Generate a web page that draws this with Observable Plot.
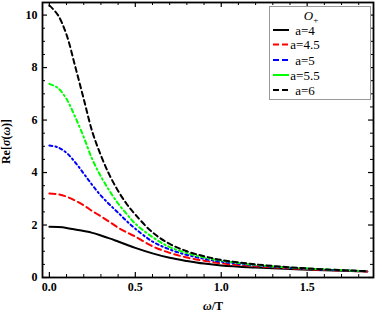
<!DOCTYPE html>
<html><head><meta charset="utf-8">
<script src="https://cdn.jsdelivr.net/npm/d3@7"></script>
<script src="https://cdn.jsdelivr.net/npm/@observablehq/plot@0.6"></script>
<style>body{margin:0;background:#fff}</style>
</head><body><div id="chart"></div>
<script>
const omega = [0, 0.05, 0.1, 0.15, 0.2, 0.25, 0.3, 0.35, 0.4, 0.45, 0.5, 0.6, 0.7, 0.8, 0.9, 1.0, 1.2, 1.4, 1.6, 1.85];
const a4  = [1.93, 1.92, 1.89, 1.83, 1.77, 1.70, 1.60, 1.49, 1.37, 1.25, 1.13, 0.92, 0.75, 0.63, 0.53, 0.46, 0.38, 0.32, 0.28, 0.23];
const a45 = [3.20, 3.17, 3.08, 2.93, 2.75, 2.53, 2.33, 2.12, 1.90, 1.72, 1.56, 1.19, 0.94, 0.76, 0.64, 0.54, 0.43, 0.35, 0.29, 0.23];
const a5  = [5.03, 4.96, 4.75, 4.39, 3.96, 3.52, 3.12, 2.78, 2.47, 2.15, 1.86, 1.37, 1.07, 0.86, 0.71, 0.60, 0.46, 0.37, 0.30, 0.24];
const a55 = [7.38, 7.22, 6.80, 6.12, 5.35, 4.50, 3.85, 3.30, 2.82, 2.42, 2.05, 1.54, 1.16, 0.93, 0.76, 0.64, 0.48, 0.38, 0.31, 0.24];
const a6  = [10.37, 10.0, 9.25, 8.05, 6.80, 5.55, 4.65, 3.90, 3.30, 2.80, 2.40, 1.72, 1.28, 1.00, 0.81, 0.67, 0.50, 0.39, 0.31, 0.24];

const seriesNames = ["a=4", "a=4.5", "a=5", "a=5.5", "a=6"];
const seriesValues = [a4, a45, a5, a55, a6];
const colors = ["#000000", "#ff0000", "#0000ff", "#00ff00", "#000000"];
const dashes = [null, "6,4", "3,3,1.5,3", "4,3,1.5,3", "5,3.5"];

const xTicks = [0, 0.5, 1.0, 1.5];
const xTickLabels = ["0.0", "0.5", "1.0", "1.5"];
const yTicks = [0, 2, 4, 6, 8, 10];
const yTickLabels = ["0", "2", "4", "6", "8", "10"];
const xMinor = d3.range(0, 19).map(i => i / 10).filter(v => !xTicks.includes(v));
const yMinor = d3.range(0, 21).map(i => i / 2).filter(v => !yTicks.includes(v));

const W = 382, H = 320, mL = 42, mR = 9, mT = 2, mB = 43;
const innerW = W - mL - mR, innerH = H - mT - mB;
const serif = "'Liberation Serif', 'Times New Roman', serif";

const lineMarks = seriesValues.map((vals, k) =>
  Plot.line(omega.map((o, i) => ({omega: o, v: vals[i]})), {
    x: "omega", y: "v", stroke: colors[k], strokeWidth: 2,
    strokeDasharray: dashes[k], curve: "catmull-rom"
  })
);

const font = {fontFamily: serif, fontWeight: "bold", fontSize: 12};

const chart = Plot.plot({
  width: W, height: H, marginLeft: mL, marginRight: mR, marginTop: mT, marginBottom: mB,
  style: {background: "#fff", color: "#000", fontFamily: serif},
  x: {domain: [-0.04, 1.886]},
  y: {domain: [0, 10.48]},
  marks: [
    ...lineMarks,
    Plot.tickX(xTicks, {x: d => d, insetTop: innerH - 5, stroke: "#000", strokeWidth: 1.2}),
    Plot.tickX(xTicks, {x: d => d, insetBottom: innerH - 5, stroke: "#000", strokeWidth: 1.2}),
    Plot.tickX(xMinor, {x: d => d, insetTop: innerH - 3, stroke: "#000", strokeWidth: 1}),
    Plot.tickX(xMinor, {x: d => d, insetBottom: innerH - 3, stroke: "#000", strokeWidth: 1}),
    Plot.tickY(yTicks, {y: d => d, insetRight: innerW - 5, stroke: "#000", strokeWidth: 1.2}),
    Plot.tickY(yTicks, {y: d => d, insetLeft: innerW - 5, stroke: "#000", strokeWidth: 1.2}),
    Plot.tickY(yMinor, {y: d => d, insetRight: innerW - 3, stroke: "#000", strokeWidth: 1}),
    Plot.tickY(yMinor, {y: d => d, insetLeft: innerW - 3, stroke: "#000", strokeWidth: 1}),
    Plot.axisX(xTicks, {anchor: "bottom", tickSize: 0, tickPadding: 5, tickFormat: (d, i) => xTickLabels[i], label: null, ...font}),
    Plot.axisY(yTicks, {anchor: "left", tickSize: 0, tickPadding: 5, tickFormat: (d, i) => yTickLabels[i], label: null, ...font}),
    Plot.frame({stroke: "#000", strokeWidth: 1.8})
  ]
});

const svg = d3.select(chart);

// axis labels
const yl = svg.append("text")
  .attr("transform", `translate(10,${mT + innerH / 2 + 2}) rotate(-90)`)
  .attr("text-anchor", "middle")
  .style("font-family", serif).style("font-weight", "bold").style("font-size", "12px").attr("fill", "#000");
yl.append("tspan").text("Re[");
yl.append("tspan").style("font-style", "italic").text("σ");
yl.append("tspan").text("(");
yl.append("tspan").style("font-style", "italic").text("ω");
yl.append("tspan").text(")]");

const xl = svg.append("text")
  .attr("x", 213).attr("y", 310)
  .attr("text-anchor", "middle")
  .style("font-family", serif).style("font-weight", "bold").style("font-size", "12px").attr("fill", "#000");
xl.append("tspan").style("font-style", "italic").text("ω");
xl.append("tspan").text("/T");

// legend
const lg = svg.append("g");
lg.append("rect").attr("x", 269.5).attr("y", 6.5).attr("width", 101).attr("height", 93)
  .attr("fill", "#fff").attr("stroke", "#999").attr("stroke-width", 1);
const tt = lg.append("text").attr("x", 311).attr("y", 20).attr("text-anchor", "middle")
  .style("font-family", serif).style("font-size", "13px").attr("fill", "#000");
tt.append("tspan").style("font-style", "italic").text("O");
tt.append("tspan").style("font-size", "9px").attr("dy", 3).text("+");
const rowY = [30, 44.5, 60, 75, 90];
seriesNames.forEach((name, k) => {
  lg.append("line").attr("x1", 273).attr("x2", 289).attr("y1", rowY[k]).attr("y2", rowY[k])
    .attr("stroke", colors[k]).attr("stroke-width", 2)
    .attr("stroke-dasharray", dashes[k] ? (k === 3 ? null : "6,3") : null);
  lg.append("text").attr("x", 305).attr("y", rowY[k] + 4.5)
    .style("font-family", serif).style("font-size", "13px").attr("fill", "#000").text(name);
});

document.getElementById("chart").appendChild(chart);
</script>
</body></html>
